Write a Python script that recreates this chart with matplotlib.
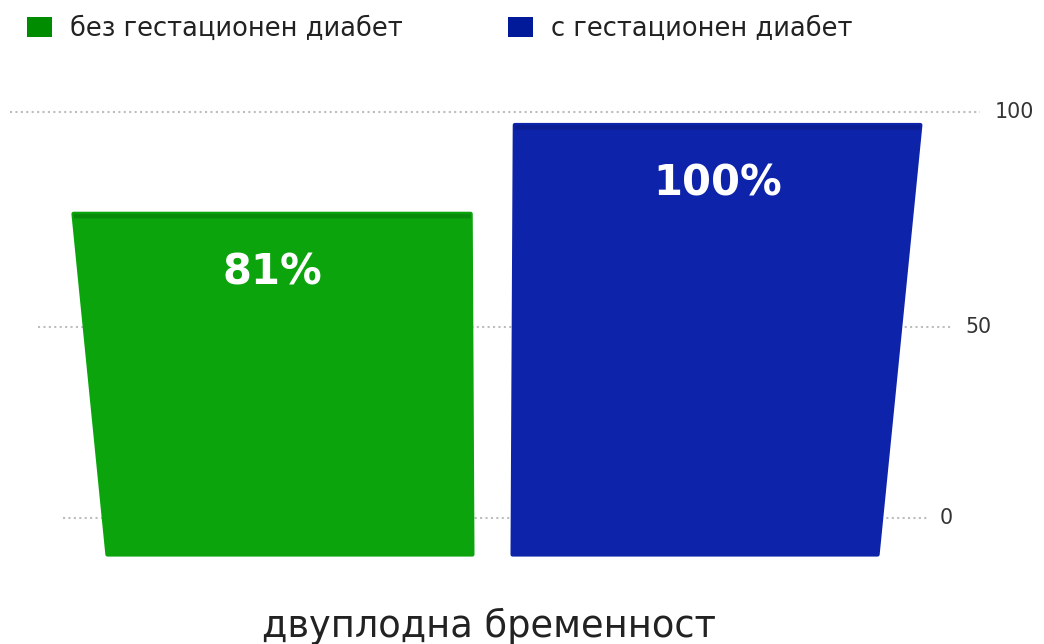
import numpy as np
import matplotlib.pyplot as plt
import matplotlib.transforms as mtransforms
from matplotlib.patches import Patch

plt.rcParams["font.family"] = ["DejaVu Sans"]

series = ["без гестационен диабет", "с гестационен диабет"]
category = "двуплодна бременност"
values = [81, 100]
yticks = [0, 50, 100]

face_colors = ["#0ba40d", "#0d23a9"]
top_colors = ["#088a0a", "#0a1d95"]
legend_colors = ["#008c00", "#001a99"]


class Tilt(mtransforms.Transform):
    """(position, value) -> pixels on a plane leaning back from the viewer."""
    input_dims = 2
    output_dims = 2
    is_separable = False

    def __init__(self, cx, sx, y0, sy, k):
        super().__init__()
        self.cx, self.sx, self.y0, self.sy, self.k = cx, sx, y0, sy, k

    def transform_non_affine(self, values):
        xy = np.asarray(values, dtype=float).reshape(-1, 2)
        d = 1 + self.k * xy[:, 1]
        return np.column_stack([self.cx + self.sx * xy[:, 0] / d,
                                (self.y0 + self.sy * xy[:, 1]) / d])


fig = plt.figure(figsize=(10.44, 6.44), dpi=100)
ax = fig.add_axes([0, 0, 1, 1])
ax.set_xlim(0, 1044)
ax.set_ylim(644, 0)
ax.set_autoscale_on(False)
ax.axis("off")

# bars sit on the front plane, grid + ticks on the back wall
front = Tilt(492.5, 365, 554.5, -4.42, -0.001) + ax.transData
back = Tilt(495, 360, 518, -4.183, -0.0011) + ax.transData

grid_half = 1.2
ax.hlines(yticks, -grid_half, grid_half, transform=back, colors="#bdbdbd",
          linewidth=1.5, linestyles=[(0, (1, 1.6))], zorder=1)
for t in yticks:
    ax.text(grid_half + 0.036, t, str(t), transform=back, ha="left",
            va="center", fontsize=14.8, color="#333333")

width = 1.0
pos = np.array([-0.555, 0.555])
ax.bar(pos, values, width, color=face_colors, edgecolor=face_colors,
       linewidth=3, joinstyle="round", transform=front, zorder=3)
band = 1.0
ax.bar(pos, band, width, bottom=np.array(values) - band, color=top_colors,
       transform=front, zorder=4)

for p, v in zip(pos, values):
    ax.annotate(f"{v}%", xy=(p, v), xycoords=front, xytext=(0, -42),
                textcoords="offset points", ha="center", va="center",
                color="white", fontsize=30, fontweight="bold", zorder=5)

handles = [Patch(facecolor=c, edgecolor="none") for c in legend_colors]
fig.legend(handles, series, loc="upper left",
           bbox_to_anchor=(27 / 1044, 1 - 16 / 644), ncol=2, frameon=False,
           fontsize=18.5, handlelength=0.98, handleheight=0.78,
           handletextpad=0.7, columnspacing=4.1, borderpad=0,
           borderaxespad=0, labelcolor="#222222")

fig.text(489 / 1044, 1 - 637 / 644, category, ha="center", va="baseline",
         fontsize=26.5, color="#222222")

fig.savefig("out.png", dpi=100)
